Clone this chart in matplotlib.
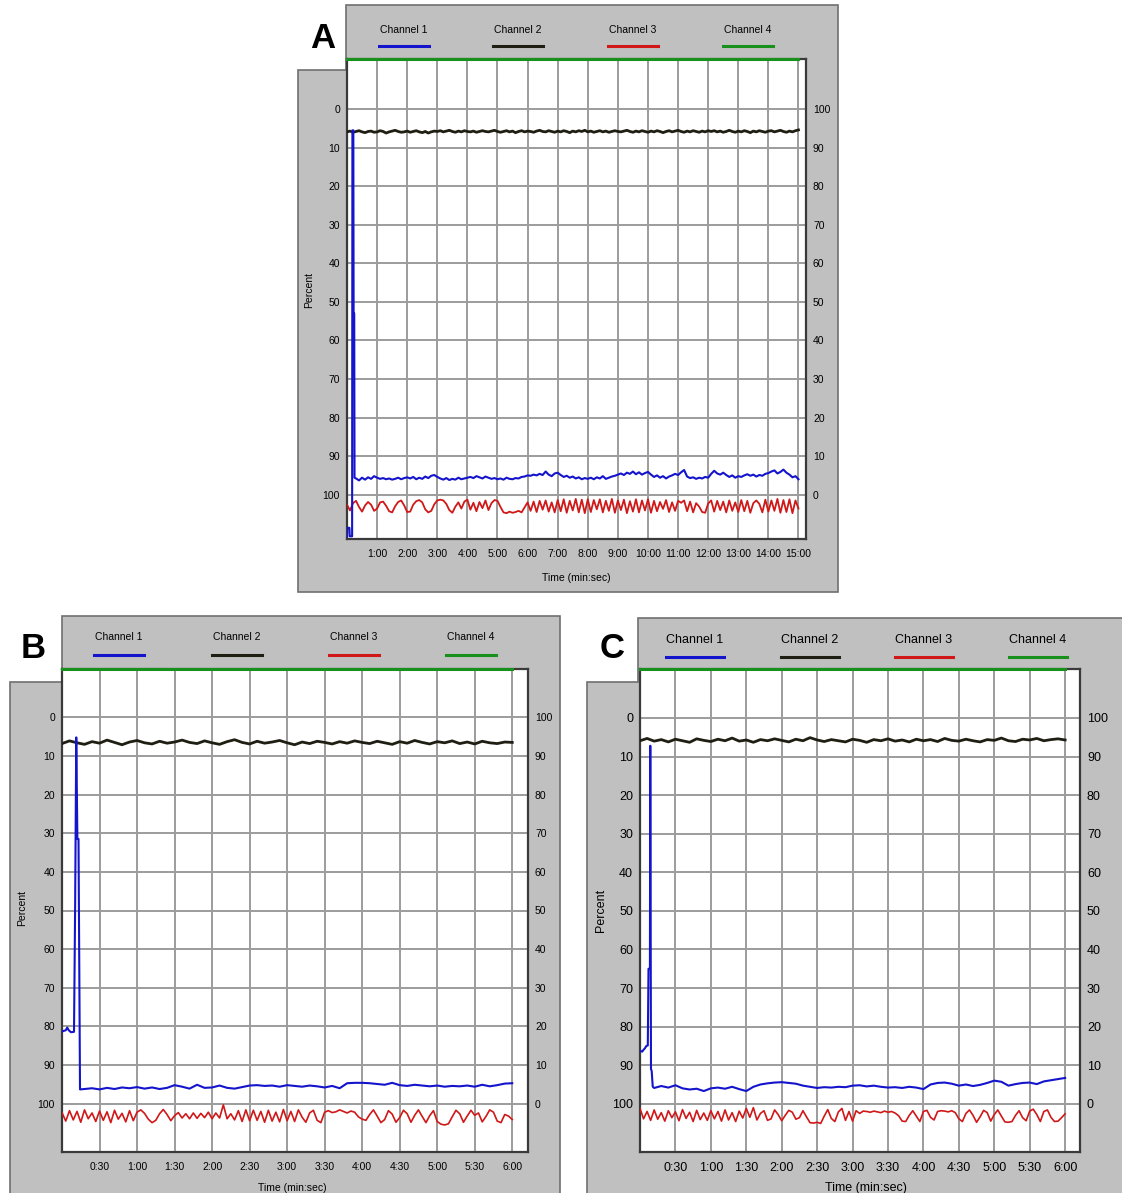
import numpy as np
import matplotlib.pyplot as plt
from matplotlib.lines import Line2D
from matplotlib.patches import Polygon

plt.rcParams['font.family'] = ['Liberation Sans', 'DejaVu Sans']

W, H = 1122, 1193

channel_names = ['Channel 1', 'Channel 2', 'Channel 3', 'Channel 4']

# ---- A: 15 min run, traces sampled every 0.1 min ----
a_step = 0.1
a_ch1_head_t = [0.0, 0.01, 0.08, 0.09, 0.17, 0.18, 0.21, 0.22, 0.24, 0.25]
a_ch1_head = [111.0, 108.6, 108.6, 110.8, 110.8, 5.5, 5.5, 53.0, 53.0, 95.6]
a_ch1_start = 0.3
a_ch1 = [
    95.8, 96.3, 95.6, 96.1, 95.5, 95.9, 95.2, 95.6,
    95.9, 95.7, 96.0, 95.8, 96.1, 95.9, 95.6, 96.0, 95.7, 95.5,
    95.8, 95.4, 96.0, 95.6, 95.9, 95.3, 95.7, 95.1, 94.9, 95.4,
    95.8, 96.1, 95.7, 96.2, 95.9, 96.1, 95.6, 96.0, 95.8, 95.6,
    95.4, 95.7, 95.2, 95.5, 95.8, 95.3, 95.6, 95.9, 95.7, 96.0,
    95.8, 96.1, 95.6, 95.9, 96.0, 95.7, 95.8, 95.4, 95.3, 95.0,
    95.1, 94.8, 95.0, 94.6, 94.9, 94.0, 94.8, 95.2, 94.5, 94.3,
    94.9, 95.4, 95.1, 95.6, 95.3, 95.8, 95.5, 96.0, 95.7, 95.9,
    95.6, 96.0, 95.5, 95.8, 95.2, 95.9, 95.6, 95.3, 95.1, 94.8,
    94.5, 94.9, 94.3, 94.6, 94.0, 94.7, 94.2, 94.8, 94.4, 94.1,
    94.8, 95.4, 95.0, 95.6, 95.2, 95.8, 95.3, 95.0, 94.6, 94.9,
    94.2, 93.6, 95.3, 95.7, 95.5, 95.9, 95.6, 95.8, 95.4, 95.6,
    94.6, 93.8, 94.5, 94.8, 94.3, 94.9, 95.4, 95.0, 95.6, 95.2,
    95.4, 95.0, 94.7, 95.1, 94.8, 95.3, 94.9, 95.1, 94.6, 94.4,
    94.0, 93.7, 94.5, 94.1, 93.5, 94.3, 94.8, 95.5, 95.2, 96.0,
]
a_ch2 = [
    5.9, 5.7, 6.0, 5.8, 5.6, 5.9, 6.1, 5.8, 5.7, 6.0, 5.9,
    5.6, 5.8, 6.2, 5.9, 5.7, 5.5, 5.8, 6.0, 5.9, 5.7,
    6.0, 5.8, 5.6, 5.9, 6.1, 5.8, 6.2, 5.9, 5.7, 5.8,
    5.6, 5.9, 5.7, 5.5, 5.8, 6.0, 5.7, 5.9, 5.6, 5.8,
    5.9, 5.7, 6.0, 5.8, 5.6, 5.8, 5.9, 5.7, 5.5, 5.8,
    6.0, 5.8, 5.6, 5.9, 5.7, 6.1, 5.8, 5.6, 5.9, 5.7,
    5.8, 6.0, 5.7, 5.5, 5.8, 5.9, 5.6, 5.8, 6.0, 5.7,
    5.9, 5.6, 5.8, 6.1, 5.7, 5.9, 5.6, 5.8, 5.5, 5.9,
    5.7, 6.0, 5.8, 5.6, 5.9, 5.7, 6.0, 5.8, 5.6, 5.8,
    5.9, 5.7, 5.5, 5.8, 6.0, 5.7, 5.9, 5.6, 5.8, 6.0,
    5.7, 5.9, 5.6, 5.8, 6.1, 5.8, 5.6, 5.9, 5.7, 5.5,
    5.8, 6.0, 5.7, 5.9, 5.6, 5.8, 6.0, 5.7, 5.9, 5.6,
    5.8, 5.6, 5.9, 5.7, 6.0, 5.8, 5.5, 5.8, 6.0, 5.7,
    5.9, 5.6, 5.8, 6.1, 5.7, 5.9, 5.6, 5.8, 6.0, 5.7,
    5.6, 5.9, 5.7, 5.5, 5.8, 6.0, 5.7, 5.9, 5.6, 5.4,
]
a_ch3 = [
    102.6, 104.1, 102.2, 101.6, 103.2, 104.4, 102.8, 101.9, 102.6, 104.2, 103.6,
    102.0, 101.8, 102.9, 104.3, 104.6, 103.0, 101.9, 101.5, 102.8, 104.5,
    104.4, 102.6, 101.7, 101.4, 102.0, 103.8, 104.6, 104.2, 102.5, 101.5,
    101.3, 101.5, 102.4, 104.0, 104.7, 103.1, 102.0, 103.6, 101.8, 101.3,
    103.9, 102.1, 104.3, 101.9, 103.5, 101.5, 104.0, 102.2, 101.4, 101.6,
    103.2, 104.6, 104.8, 104.4, 104.7, 104.5, 104.2, 104.6, 103.3, 102.0,
    104.2, 101.8, 104.5, 101.6, 103.9, 101.5, 104.4, 102.0, 104.6, 101.4,
    104.3, 101.2, 104.7, 101.6, 104.1, 101.1, 104.6, 101.3, 104.8, 101.2,
    104.5, 101.4, 103.8, 101.2, 104.6, 101.6, 104.2, 101.1, 104.7, 101.5,
    104.0, 101.3, 104.8, 101.7, 104.4, 101.2, 104.6, 101.5, 104.1, 101.2,
    104.7, 101.6, 104.3, 101.9, 103.7, 101.4, 104.5, 102.0, 104.2, 101.6,
    102.1, 101.5, 104.3, 101.8, 104.6, 102.2, 103.1, 104.5, 104.7, 102.3,
    101.5, 104.4, 101.6, 104.0, 101.8, 104.6, 101.5, 104.2, 102.0, 104.5,
    101.4, 104.3, 101.6, 104.7, 102.2, 101.5, 102.4, 104.6, 101.3, 104.4,
    101.5, 104.2, 101.1, 104.7, 101.4, 104.5, 101.2, 104.8, 101.5, 103.6,
]
a_end = 15.0
a_ticks = list(range(1, 16))
a_ticklabels = ['%d:00' % m for m in a_ticks]

# ---- B: 6 min run ----
b_ch1_head_t = [0.0, 0.05, 0.07, 0.09, 0.12, 0.16, 0.175, 0.19, 0.205, 0.22, 0.24]
b_ch1_head = [81.3, 81.0, 80.3, 81.0, 81.5, 81.4, 49.0, 5.2, 31.5, 31.5, 96.3]
b_ch1_start = 0.3
b_ch1 = [
    96.2, 96.0, 96.3, 95.9, 96.2, 95.8, 96.0, 95.7,
    96.1, 95.8, 96.2, 95.9, 95.2, 95.6, 96.1, 95.1, 95.9, 95.8,
    95.3, 95.9, 96.1, 95.7, 95.3, 95.2, 95.4, 95.3, 95.6, 95.2,
    95.4, 95.6, 95.3, 95.5, 95.8, 95.4, 96.0, 94.7, 94.6, 94.6,
    94.7, 94.9, 95.1, 94.6, 95.2, 95.4, 95.1, 95.3, 95.5, 95.3,
    95.6, 95.4, 95.5, 95.3, 95.6, 95.1, 95.5, 95.2, 94.8, 94.7,
]
b_ch2 = [
    6.8, 6.1, 6.6, 7.0, 6.3, 6.7, 5.9, 6.5, 7.1, 6.4,
    6.0, 6.6, 6.9, 6.2, 6.7, 6.4, 5.9, 6.5, 6.8, 6.1,
    6.6, 7.0, 6.3, 5.8, 6.5, 6.9, 6.2, 6.7, 6.4, 6.0,
    6.6, 7.1, 6.4, 6.8, 6.2, 6.5, 6.9, 6.3, 6.7, 6.1,
    6.5, 6.8, 6.2, 6.6, 7.0, 6.3, 6.7, 6.0, 6.5, 6.9,
    6.3, 6.6, 6.1, 6.8, 6.4, 6.9, 6.2, 6.6, 6.8, 6.4, 6.5,
]
b_ch3 = [
    102.3, 104.5, 101.8, 104.2, 102.0, 104.8, 101.6, 103.9, 102.4, 104.6, 101.9,
    104.3, 102.1, 104.9, 101.7, 104.0, 102.5, 104.7, 101.8, 104.4, 102.2,
    101.6, 102.5, 104.0, 104.9, 104.3, 102.6, 101.5, 102.8, 104.4, 103.1,
    102.3, 103.7, 102.6, 103.9, 102.4, 103.8, 102.5, 103.6, 102.2, 103.9,
    102.4, 103.7, 100.3, 103.9, 102.6, 104.2, 101.8, 104.6, 101.6, 104.4,
    101.7, 104.3, 102.0, 104.8, 101.7, 104.5, 102.2, 104.7, 101.5, 104.4,
    102.0, 104.6, 101.6, 103.5, 104.8, 102.4, 101.7, 104.3, 104.9, 102.2,
    101.8, 102.3, 102.1, 101.6, 102.0, 102.4, 101.9, 102.2, 103.4, 104.0,
    104.3, 102.8, 101.6, 103.2, 104.9, 104.1, 101.8, 102.7, 104.8, 103.6,
    101.7, 102.6, 104.8, 103.0, 101.6, 103.3, 104.9, 103.1, 101.8, 104.6,
    105.3, 105.5, 105.2, 103.4, 101.7, 102.6, 104.8, 103.2, 101.7, 103.0,
    102.4, 104.7, 103.3, 101.6, 102.2, 104.5, 104.9, 102.8, 103.2, 104.1,
]

# ---- C: 6 min run ----
c_ch1_head_t = [0.0, 0.03, 0.05, 0.07, 0.09, 0.11, 0.12, 0.14, 0.145, 0.155, 0.165, 0.18]
c_ch1_head = [86.2, 86.5, 86.0, 85.6, 85.0, 84.9, 65.0, 65.0, 7.2, 91.0, 91.5, 95.6]
c_ch1_start = 0.2
c_ch1 = [
    95.9, 95.4, 95.8, 95.2, 96.0, 96.3, 96.1, 96.7, 96.0,
    95.8, 96.1, 95.6, 96.2, 96.7, 95.6, 95.0, 94.7, 94.5, 94.4,
    94.6, 94.8, 95.3, 95.6, 95.9, 95.7, 95.8, 95.6, 95.7, 95.3,
    95.2, 95.5, 95.3, 95.6, 95.8, 95.7, 95.9, 95.6, 95.8, 96.2,
    95.0, 94.6, 94.5, 94.8, 95.3, 95.0, 95.4, 95.1, 94.6, 94.0,
    94.3, 95.3, 94.9, 94.6, 94.5, 94.9, 94.2, 93.9, 93.6, 93.3,
]
c_ch2 = [
    5.9, 5.3, 6.0, 5.6, 6.2, 5.5, 5.9, 6.3, 5.4, 5.8,
    6.1, 5.5, 5.9, 5.2, 6.0, 5.7, 6.3, 5.6, 5.9, 5.4,
    5.8, 6.2, 5.5, 5.9, 5.1, 5.7, 6.1, 5.6, 5.9, 6.2,
    5.5, 5.8, 6.3, 5.6, 5.9, 5.4, 6.0, 5.7, 6.2, 5.5,
    5.9, 5.6, 6.1, 5.3, 5.8, 6.0, 5.5, 5.9, 6.2, 5.6,
    5.8, 5.2, 5.9, 6.1, 5.5, 5.7, 5.3, 5.9, 5.6, 5.4, 5.7,
]
c_ch3 = [
    101.2, 103.9, 102.0, 104.3, 101.6, 104.0, 102.3, 104.5, 101.8, 103.6, 102.1,
    104.4, 101.5, 103.8, 102.2, 104.6, 101.7, 104.1, 102.4, 104.3, 101.8,
    103.9, 102.0, 104.5, 101.6, 104.2, 102.3, 104.6, 101.9, 103.7, 101.2,
    103.5, 101.0, 104.2, 102.5, 101.8, 104.3, 103.9, 101.6, 102.8, 104.4,
    103.0, 101.7, 102.2, 104.0, 103.6, 101.8, 103.4, 104.9, 105.0, 104.8,
    105.1, 103.2, 101.5, 103.8, 104.6, 102.1, 101.2, 104.3, 102.0, 104.5,
    101.8, 102.5, 101.9, 102.0, 102.2, 101.9, 102.1, 102.3, 101.9, 102.2,
    102.0, 102.4, 103.1, 104.5, 104.6, 103.0, 101.8, 103.2, 104.6, 102.0,
    101.7, 103.5, 104.2, 102.0, 101.8, 101.9, 102.1, 101.8, 102.3, 103.9,
    104.6, 102.5, 101.6, 103.0, 104.8, 103.4, 101.7, 102.3, 104.5, 102.8,
    101.6, 103.2, 104.7, 104.8, 104.6, 103.0, 101.8, 103.6, 104.4, 101.9,
    101.4, 102.8, 104.6, 102.0, 101.6, 103.5, 104.6, 104.5, 103.6, 102.6,
]
bc_end = 6.0
bc_ticks = [0.5 * k for k in range(1, 13)]
bc_ticklabels = ['%d:%02d' % (int(v), round((v % 1) * 60)) for v in bc_ticks]
step_fast = 0.05

BLUE = '#1414cc'
BLACK = '#1e1e12'
RED = '#d01818'
GREEN = '#18901c'
GRAY = '#c0c0c0'
GRID = '#9c9c9c'
FRAME = '#3a3a3a'

fig = plt.figure(figsize=(W / 100, H / 100), dpi=100)


def fx(x):
    return x / W


def fy(y):
    return 1 - y / H


def window(x0, y0, x1, y1, nx, ny):
    # grey window with the white corner cut out for the panel letter
    pts = [(nx, y0), (x1, y0), (x1, y1), (x0, y1), (x0, ny), (nx, ny)]
    fig.add_artist(Polygon([(fx(x), fy(y)) for x, y in pts], closed=True,
                           transform=fig.transFigure, facecolor=GRAY,
                           edgecolor='#707070', lw=1.2, zorder=0))


def legend_strip(centers, ytext, yline, half, fs):
    for name, cx, col in zip(channel_names, centers, [BLUE, BLACK, RED, GREEN]):
        fig.text(fx(cx), fy(ytext), name, ha='center', va='center', fontsize=fs)
        fig.add_artist(Line2D([fx(cx - half), fx(cx + half)], [fy(yline), fy(yline)],
                              color=col, lw=2.2, transform=fig.transFigure))


def panel(box, xmax, ylim, ticks, ticklabels, traces, t_end, fs):
    x0, y0, x1, y1 = box
    ax = fig.add_axes([fx(x0), fy(y1), fx(x1) - fx(x0), fy(y0) - fy(y1)])
    ax.set_facecolor('white')
    ax.set_xlim(0, xmax)
    ax.set_ylim(ylim)
    ax.set_xticks(ticks)
    ax.set_xticklabels(ticklabels, fontsize=fs)
    ax.set_yticks(range(0, 101, 10))
    ax.set_yticklabels([str(v) for v in range(0, 101, 10)], fontsize=fs)
    ax.tick_params(length=0, pad=5)
    ax.tick_params(axis='x', pad=7)
    ax.grid(True, color=GRID, lw=1.4)
    ax.set_axisbelow(True)
    for s in ax.spines.values():
        s.set_color(FRAME)
        s.set_linewidth(1.6)

    for t, v, col, lw in traces:
        ax.plot(t, v, color=col, lw=lw, zorder=3)
    # channel 4 sits off-scale along the top edge
    ax.plot([0, t_end], [ylim[1], ylim[1]], color=GREEN, lw=2.2,
            clip_on=False, zorder=6)

    ax2 = ax.twinx()
    ax2.set_ylim(100 - ylim[0], 100 - ylim[1])
    ax2.set_yticks(range(0, 101, 10))
    ax2.set_yticklabels([str(v) for v in range(0, 101, 10)], fontsize=fs)
    ax2.tick_params(length=0, pad=5)
    for s in ax2.spines.values():
        s.set_visible(False)
    return ax


def series(head_t, head, start, body, step):
    t = list(head_t) + list(start + step * np.arange(len(body)))
    return t, list(head) + list(body)


# ---------- A ----------
window(298, 5, 838, 592, 346, 70)
legend_strip([404, 518, 633, 748], 30, 46, 25, 7.5)
a_t1, a_v1 = series(a_ch1_head_t, a_ch1_head, a_ch1_start, a_ch1, a_step)
a_t = a_step * np.arange(len(a_ch2))
panel((347, 59, 806, 539), 15.25, (111.5, -13.0), a_ticks, a_ticklabels,
      [(a_t, a_ch3, RED, 1.3), (a_t, a_ch2, BLACK, 2.0), (a_t1, a_v1, BLUE, 1.5)],
      a_end, 7.5)
fig.text(fx(323), fy(38), 'A', fontsize=25, fontweight='bold', ha='center', va='center')
fig.text(fx(309), fy(290), 'Percent', rotation=90, fontsize=7.5, ha='center', va='center')
fig.text(fx(576), fy(578), 'Time (min:sec)', fontsize=7.5, ha='center', va='center')

# ---------- B ----------
window(10, 616, 560, 1210, 62, 682)
legend_strip([119, 237, 354, 471], 637, 655, 25, 7.5)
b_t1, b_v1 = series(b_ch1_head_t, b_ch1_head, b_ch1_start, b_ch1, 0.1)
b_t2 = 0.1 * np.arange(len(b_ch2))
b_t3 = step_fast * np.arange(len(b_ch3))
panel((62, 669, 528, 1152), 6.21, (112.5, -12.5), bc_ticks, bc_ticklabels,
      [(b_t3, b_ch3, RED, 1.2), (b_t2, b_ch2, BLACK, 2.0), (b_t1, b_v1, BLUE, 1.5)],
      bc_end, 7.5)
fig.text(fx(33), fy(648), 'B', fontsize=25, fontweight='bold', ha='center', va='center')
fig.text(fx(22), fy(908), 'Percent', rotation=90, fontsize=7.5, ha='center', va='center')
fig.text(fx(292), fy(1188), 'Time (min:sec)', fontsize=7.5, ha='center', va='center')

# ---------- C ----------
window(587, 618, 1130, 1210, 638, 682)
legend_strip([695, 810, 924, 1038], 640, 657, 29, 9)
c_t1, c_v1 = series(c_ch1_head_t, c_ch1_head, c_ch1_start, c_ch1, 0.1)
c_t2 = 0.1 * np.arange(len(c_ch2))
c_t3 = step_fast * np.arange(len(c_ch3))
panel((640, 669, 1080, 1152), 6.21, (112.5, -12.7), bc_ticks, bc_ticklabels,
      [(c_t3, c_ch3, RED, 1.2), (c_t2, c_ch2, BLACK, 2.0), (c_t1, c_v1, BLUE, 1.5)],
      bc_end, 9)
fig.text(fx(612), fy(648), 'C', fontsize=25, fontweight='bold', ha='center', va='center')
fig.text(fx(601), fy(910), 'Percent', rotation=90, fontsize=9, ha='center', va='center')
fig.text(fx(866), fy(1188), 'Time (min:sec)', fontsize=9, ha='center', va='center')

fig.savefig('out.png', dpi=100, facecolor='white')
